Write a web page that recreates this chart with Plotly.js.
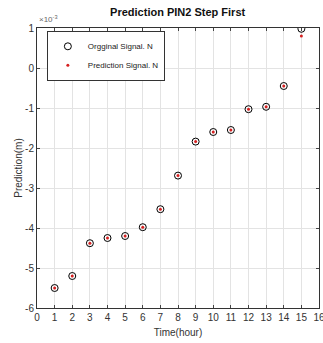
<!DOCTYPE html>
<html><head><meta charset="utf-8">
<script src="https://cdn.plot.ly/plotly-3.0.1.min.js"></script>
<style>html,body{margin:0;padding:0;background:#fff}#chart{width:323px;height:343px}</style>
</head><body><div id="chart"></div>
<script>
// values in units of 1e-3 m
var hours = [1,2,3,4,5,6,7,8,9,10,11,12,13,14,15];
var original = [-5.5,-5.2,-4.38,-4.25,-4.2,-3.98,-3.53,-2.69,-1.84,-1.6,-1.55,-1.03,-0.97,-0.45,0.98];
var predicted = [-5.5,-5.2,-4.38,-4.25,-4.2,-3.98,-3.53,-2.69,-1.84,-1.6,-1.55,-1.03,-0.97,-0.45,0.8];
var xTicks = [0,1,2,3,4,5,6,7,8,9,10,11,12,13,14,15,16];
var yTicks = [-6,-5,-4,-3,-2,-1,0,1];

var traces = [
  {x: hours, y: original, mode: 'markers', type: 'scatter', name: 'Orgginal Signal. N',
   marker: {symbol: 'circle-open', size: 7, color: '#000', line: {width: 1, color: '#000'}}},
  {x: hours, y: predicted, mode: 'markers', type: 'scatter', name: 'Prediction Signal. N',
   marker: {symbol: 'circle', size: 3, color: '#d62020'}}
];
var axFont = {family: 'Arial, Liberation Sans, sans-serif', size: 10, color: '#333'};
var layout = {
  width: 323, height: 343,
  margin: {l: 37, r: 4, t: 28, b: 35},
  paper_bgcolor: '#fff', plot_bgcolor: '#fff',
  showlegend: true,
  title: {text: '<b>Prediction PIN2 Step First</b>', x: 0.55, xanchor: 'center', y: 0.975, yanchor: 'top',
          font: {family: 'Arial, Liberation Sans, sans-serif', size: 11, color: '#111'}},
  xaxis: {range: [0, 16], tickvals: xTicks, ticktext: xTicks.map(String), ticks: 'inside', ticklen: 3,
          ticklabeloverflow: 'allow',
          showgrid: true, gridcolor: '#e3e3e3', zeroline: false, showline: true, linecolor: '#333', mirror: 'ticks',
          tickfont: axFont, title: {text: 'Time(hour)', font: axFont, standoff: 6}},
  yaxis: {range: [-6, 1], tickvals: yTicks, ticktext: yTicks.map(String), ticks: 'inside', ticklen: 3,
          showgrid: true, gridcolor: '#e3e3e3', zeroline: false, showline: true, linecolor: '#333', mirror: 'ticks',
          tickfont: axFont, title: {text: 'Prediction(m)', font: axFont, standoff: 0}},
  legend: {x: 0.035, y: 0.99, xanchor: 'left', yanchor: 'top', bgcolor: '#fff', bordercolor: '#333', borderwidth: 1,
           font: {family: 'Arial, Liberation Sans, sans-serif', size: 8, color: '#222'}, tracegroupgap: 0, itemwidth: 30},
  annotations: [{xref: 'paper', yref: 'paper', x: 0.0, y: 1.0, xanchor: 'left', yanchor: 'bottom', yshift: 2, showarrow: false,
                 text: '×10<sup>-3</sup>', font: {family: 'Arial, Liberation Sans, sans-serif', size: 8, color: '#666'}}]
};
Plotly.newPlot('chart', traces, layout, {displayModeBar: false, staticPlot: true});
</script></body></html>
